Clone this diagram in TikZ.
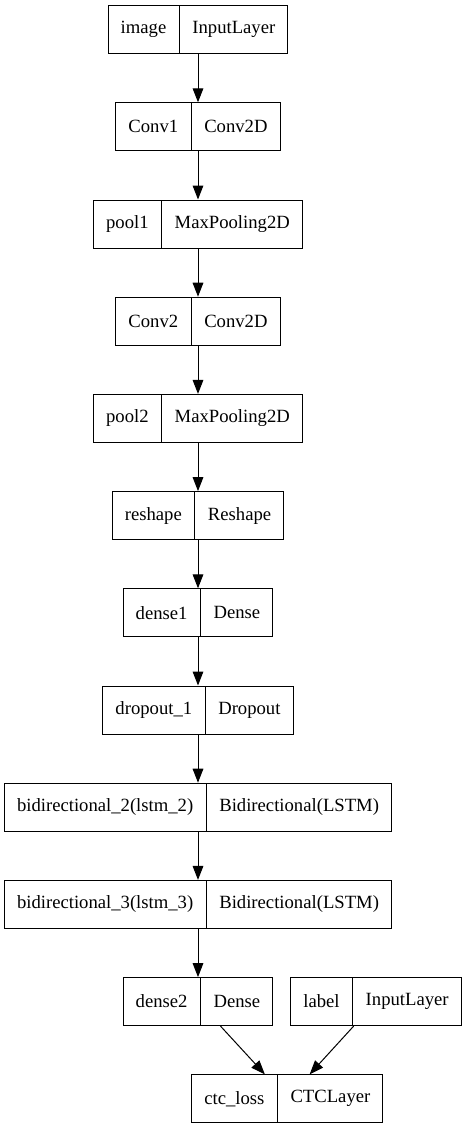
\documentclass[tikz,border=0pt]{standalone}
\usepackage{fontspec}
\setmainfont{Liberation Serif}
\usetikzlibrary{arrows.meta,positioning,shapes.multipart}

\begin{document}
\begin{tikzpicture}[>={Triangle[length=10.5pt,width=8pt]},x=0.75pt,y=-0.75pt,node distance=72.9pt,on grid]
\tikzset{layer/.style={draw,line width=0.75pt,rectangle split,rectangle split horizontal,rectangle split parts=2,
  inner xsep=9.4pt,inner ysep=0pt,minimum height=36pt,font=\fontsize{14}{17}\selectfont}}
\useasboundingbox (0,0) rectangle (465,1131);

  \node[layer]          (image)   at (198,29.6)              {image \nodepart{two} InputLayer};
  \node[layer]          (conv1)   [below =of image]          {Conv1 \nodepart{two} Conv2D};
  \node[layer]          (pool1)   [below =of conv1]          {pool1 \nodepart{two} MaxPooling2D};
  \node[layer]          (conv2)   [below =of pool1]          {Conv2 \nodepart{two} Conv2D};
  \node[layer]          (pool2)   [below =of conv2]          {pool2 \nodepart{two} MaxPooling2D};
  \node[layer]          (reshape) [below =of pool2]          {reshape \nodepart{two} Reshape};
  \node[layer]          (dense1)  [below =of reshape]        {dense1 \nodepart{two} Dense};
  \node[layer]          (dropout) [below =of dense1]         {dropout\_1 \nodepart{two} Dropout};
  \node[layer]          (bilstm2) [below =of dropout]        {bidirectional\_2(lstm\_2) \nodepart{two} Bidirectional(LSTM)};
  \node[layer]          (bilstm3) [below =of bilstm2]        {bidirectional\_3(lstm\_3) \nodepart{two} Bidirectional(LSTM)};
  \node[layer]          (dense2)  [below =of bilstm3]        {dense2 \nodepart{two} Dense};
  \node[layer]          (label)   [right =133.5pt of dense2] {label \nodepart{two} InputLayer};
  \node[layer]          (ctcloss) [below right =72.9pt and 67pt of dense2] {ctc\_loss \nodepart{two} CTCLayer};

\tikzset{flow/.style={->,line width=0.75pt}}
\path (image)   edge [flow] (conv1)
      (conv1)   edge [flow] (pool1)
      (pool1)   edge [flow] (conv2)
      (conv2)   edge [flow] (pool2)
      (pool2)   edge [flow] (reshape)
      (reshape) edge [flow] (dense1)
      (dense1)  edge [flow] (dropout)
      (dropout) edge [flow] (bilstm2)
      (bilstm2) edge [flow] (bilstm3)
      (bilstm3) edge [flow] (dense2)
      (dense2)  edge [flow] (ctcloss)
      (label)   edge [flow] (ctcloss);
\end{tikzpicture}
\end{document}
